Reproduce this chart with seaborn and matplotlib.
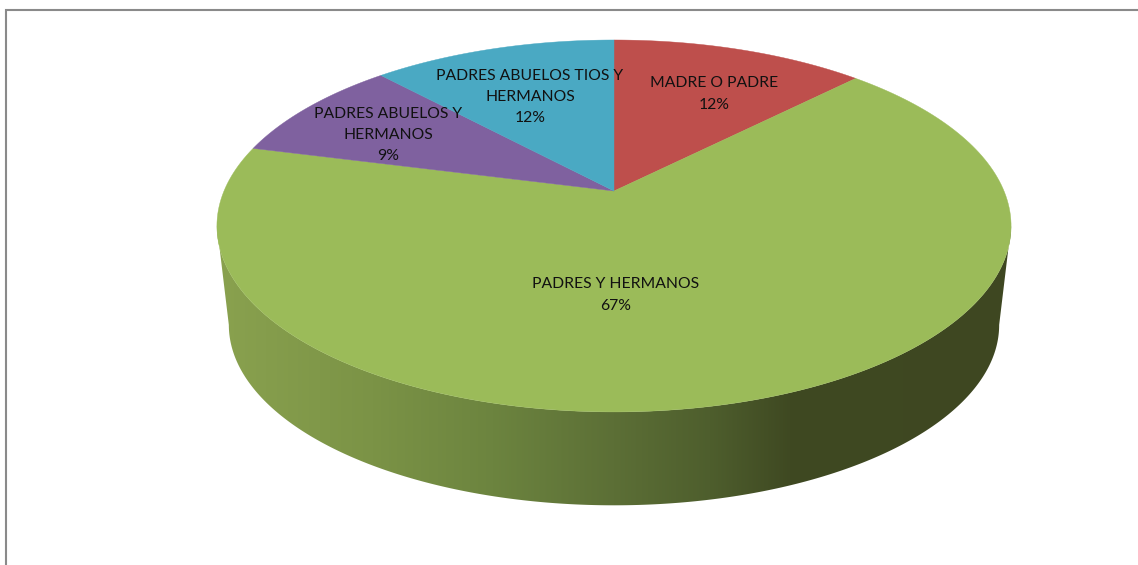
import numpy as np
import pandas as pd
import matplotlib
matplotlib.use("Agg")
import matplotlib.pyplot as plt
from matplotlib.colors import LinearSegmentedColormap
from matplotlib.patches import Polygon
import seaborn as sns

# clockwise from 12 o'clock
categories = ["MADRE O PADRE", "PADRES Y HERMANOS", "PADRES ABUELOS Y\nHERMANOS", "PADRES ABUELOS TIOS Y\nHERMANOS"]
shares = [12.4, 66.6, 9.1, 11.9]
colors = ["#BE4F4C", "#9BBB59", "#7F619F", "#4AA9C3"]
label_centers = [(714, 94), (616, 295), (388, 135), (530, 97)]

wall_stops = [(0.0, "#8AA24F"), (0.2, "#7B9346"), (0.35, "#6C843F"), (0.5, "#5C6F36"),
              (0.62, "#4E5E2D"), (0.72, "#3F4922"), (1.0, "#3E4721")]

sns.set_theme(style="white")
plt.rcParams["font.family"] = ["Lato", "DejaVu Sans"]

df = pd.DataFrame({"cat": categories, "share": shares, "color": colors})
df["end"] = df["share"].cumsum() / df["share"].sum() * 2 * np.pi
df["start"] = df["end"] - df["share"] / df["share"].sum() * 2 * np.pi

TILT = 0.188


# tilted disc, seen in perspective, so the far half comes out shorter
def project(theta, scale=1.0, apex=(614, 191)):
    u, v = np.sin(theta), np.cos(theta)
    d = 1 + TILT * v
    return apex[0] + scale * 390 * u / d, apex[1] - scale * 179.4 * v / d


fig = plt.figure(figsize=(11.38, 5.65), dpi=100)
ax = fig.add_axes([0, 0, 1, 1])
ax.axis("off")

# frame, only left and top fall inside the crop
ax.plot([6.5, 6.5, 1140], [570, 9.8, 9.8], color="#8A8A8A", lw=1.5, solid_joinstyle="miter")

# side wall of the green slice: horizontal gradient clipped to the hull of both rims,
# the rims are widest where cos(theta) = -TILT
widest = np.arccos(-TILT)
th = np.linspace(widest, 2 * np.pi - widest, 400)
xt, yt = project(th)
xb, yb = project(th, 0.97, (614, 291))
band = Polygon(np.c_[np.r_[xt, xb[::-1]], np.r_[yt, yb[::-1]]], closed=True, transform=ax.transData,
               facecolor="none", edgecolor="none")
ax.add_patch(band)
wall_cmap = LinearSegmentedColormap.from_list("wall", wall_stops, N=512)
grad = ax.imshow(np.linspace(0, 1, 1024)[None, :], cmap=wall_cmap, extent=(212, 1016, 520, 200),
                 aspect="auto", interpolation="bilinear")
grad.set_clip_path(band)

# top face
for _, row in df.iterrows():
    th = np.linspace(row["start"], row["end"], 200)
    x, y = project(th)
    ax.fill(np.r_[614, x], np.r_[191, y], color=row["color"], lw=0.3)

for cat, share, (cx, cy) in zip(categories, shares, label_centers):
    ax.text(cx, cy, f"{cat}\n{share:.0f}%", ha="center", va="center", fontsize=11.3,
            color="#111111", linespacing=1.66, multialignment="center")

ax.set_xlim(0, 1138)
ax.set_ylim(565, 0)
fig.savefig("out.png", dpi=100)
